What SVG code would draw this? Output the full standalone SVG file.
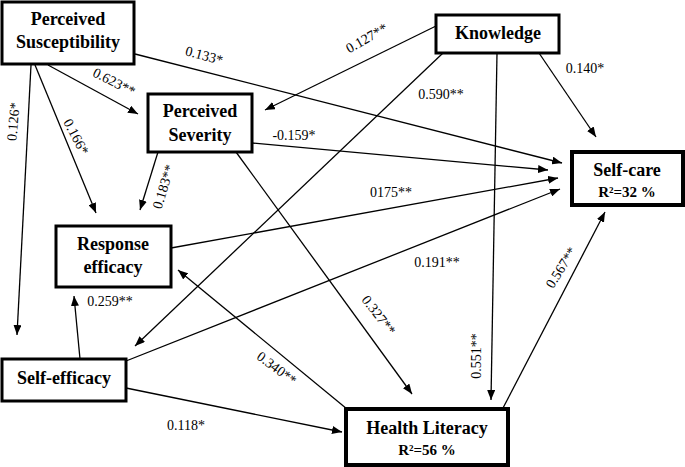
<svg xmlns="http://www.w3.org/2000/svg" width="685" height="467" viewBox="0 0 685 467" font-family="Liberation Serif, Times New Roman, serif">
<defs>
<marker id="ah" markerUnits="userSpaceOnUse" markerWidth="10" markerHeight="8" refX="10" refY="4" orient="auto">
<path d="M0,0 L10,4 L0,8 z" fill="#000"/>
</marker>
<style>
.box{fill:#fff;stroke:#000;stroke-width:3}
.tbox{fill:#fff;stroke:#000;stroke-width:4}
.nt{font-weight:bold;font-size:18px;text-anchor:middle;fill:#000}
.rt{font-weight:bold;font-size:15px;text-anchor:middle;fill:#000}
.el{font-size:14px;text-anchor:middle;fill:#000}
.c{fill:none;stroke:#000;stroke-width:1.3;marker-end:url(#ah)}
</style>
</defs>
<rect width="685" height="467" fill="#fff"/>
<g id="connectors">
<path class="c" d="M135,54 L562,163"/>
<path class="c" d="M48,65 L138,114"/>
<path class="c" d="M31,65 L17,335"/>
<path class="c" d="M35,65 L96,213"/>
<path class="c" d="M436,26 L265,110"/>
<path class="c" d="M539,53 L596,137"/>
<path class="c" d="M497,53 L491,400"/>
<path class="c" d="M443,53 L135,346"/>
<path class="c" d="M252,143 L548,170"/>
<path class="c" d="M158,152 L140,210"/>
<path class="c" d="M236,152 L412,394"/>
<path class="c" d="M80,359 L74,296"/>
<path class="c" d="M126,361 L560,189"/>
<path class="c" d="M171,248 L558,178"/>
<path class="c" d="M126,388 L342,432"/>
<path class="c" d="M347,409 L178,270"/>
<path class="c" d="M503,408 L605,212"/>
</g>
<g id="edge-labels">
<text class="el" font-family="Liberation Serif, serif" transform="translate(203,60) rotate(15)">0.133*</text>
<text class="el" font-family="Liberation Serif, serif" transform="translate(112,86) rotate(27)">0.623**</text>
<text class="el" font-family="Liberation Serif, serif" transform="translate(18,122) rotate(-85)">0.126*</text>
<text class="el" font-family="Liberation Serif, serif" transform="translate(72,139) rotate(62)">0.166*</text>
<text class="el" font-family="Liberation Serif, serif" transform="translate(369,42) rotate(-30)">0.127**</text>
<text class="el" font-family="Liberation Serif, serif" transform="translate(168,188) rotate(-73)">0.183**</text>
<text class="el" font-family="Liberation Serif, serif" transform="translate(274,372) rotate(37)">0.340**</text>
<text class="el" font-family="Liberation Serif, serif" transform="translate(375,318) rotate(52)">0.327**</text>
<text class="el" font-family="Liberation Serif, serif" transform="translate(481,356) rotate(-90)">0.551**</text>
<text class="el" font-family="Liberation Serif, serif" transform="translate(565,270) rotate(-58)">0.567**</text>
<text class="el" font-family="Liberation Serif, serif" x="441" y="99">0.590**</text>
<text class="el" font-family="Liberation Serif, serif" x="585" y="73">0.140*</text>
<text class="el" font-family="Liberation Serif, serif" x="294" y="140">-0.159*</text>
<text class="el" font-family="Liberation Serif, serif" x="391" y="197">0175**</text>
<text class="el" font-family="Liberation Serif, serif" x="437" y="267">0.191**</text>
<text class="el" font-family="Liberation Serif, serif" x="110" y="306">0.259**</text>
<text class="el" font-family="Liberation Serif, serif" x="186" y="430">0.118*</text>
</g>
<g id="perceived-susceptibility">
<rect class="box" x="2" y="2" width="132" height="62"/>
<text class="nt" font-family="Liberation Serif, serif" x="68" y="25">Perceived</text>
<text class="nt" font-family="Liberation Serif, serif" x="68" y="48">Susceptibility</text>
</g>
<g id="perceived-severity">
<rect class="box" x="148" y="94" width="104" height="58"/>
<text class="nt" font-family="Liberation Serif, serif" x="200" y="117">Perceived</text>
<text class="nt" font-family="Liberation Serif, serif" x="200" y="141">Severity</text>
</g>
<g id="knowledge">
<rect class="box" x="436" y="15" width="123" height="38"/>
<text class="nt" font-family="Liberation Serif, serif" x="498" y="39">Knowledge</text>
</g>
<g id="self-care">
<rect class="tbox" x="572" y="152" width="111" height="53"/>
<text class="nt" font-family="Liberation Serif, serif" x="627" y="176">Self-care</text>
<text class="rt" font-family="Liberation Serif, serif" x="627" y="197">R²=32 %</text>
</g>
<g id="response-efficacy">
<rect class="box" x="56" y="226" width="115" height="61"/>
<text class="nt" font-family="Liberation Serif, serif" x="113" y="250">Response</text>
<text class="nt" font-family="Liberation Serif, serif" x="113" y="273">efficacy</text>
</g>
<g id="self-efficacy">
<rect class="box" x="2" y="359" width="124" height="42"/>
<text class="nt" font-family="Liberation Serif, serif" x="64" y="384">Self-efficacy</text>
</g>
<g id="health-literacy">
<rect class="tbox" x="346" y="409" width="162" height="56"/>
<text class="nt" font-family="Liberation Serif, serif" x="427" y="434">Health Literacy</text>
<text class="rt" font-family="Liberation Serif, serif" x="427" y="455">R²=56 %</text>
</g>
</svg>
